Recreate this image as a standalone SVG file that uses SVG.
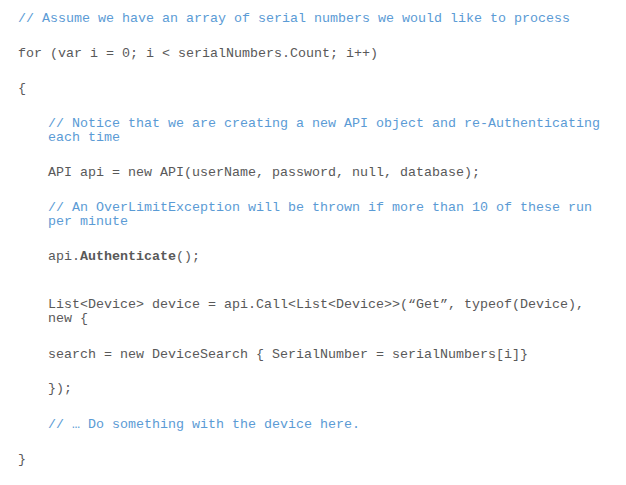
<svg xmlns="http://www.w3.org/2000/svg" width="626" height="485" viewBox="0 0 626 485">
<style>
text{font-family:"Liberation Mono","DejaVu Sans Mono",monospace;font-size:13.33px;white-space:pre}
.c{fill:#5b9bd5}
.k{fill:#595959}
.b{font-weight:bold}
</style>
<rect width="626" height="485" fill="#ffffff"/>
<g id="code">
<text class="c" x="18" y="22">// Assume we have an array of serial numbers we would like to process</text>
<text class="k" x="18" y="57">for (var i = 0; i &lt; serialNumbers.Count; i++)</text>
<text class="k" x="18" y="92">{</text>
<text class="c" x="48" y="127">// Notice that we are creating a new API object and re-Authenticating</text>
<text class="c" x="48" y="141">each time</text>
<text class="k" x="48" y="176">API api = new API(userName, password, null, database);</text>
<text class="c" x="48" y="211">// An OverLimitException will be thrown if more than 10 of these run</text>
<text class="c" x="48" y="225">per minute</text>
<text class="k" x="48" y="260">api.<tspan class="b">Authenticate</tspan>();</text>
<text class="k" x="48" y="308">List&lt;Device&gt; device = api.Call&lt;List&lt;Device&gt;&gt;(“Get”, typeof(Device),</text>
<text class="k" x="48" y="322">new {</text>
<text class="k" x="48" y="358">search = new DeviceSearch { SerialNumber = serialNumbers[i]}</text>
<text class="k" x="48" y="392">});</text>
<text class="c" x="48" y="428">// … Do something with the device here.</text>
<text class="k" x="18" y="463">}</text>
</g>
</svg>
